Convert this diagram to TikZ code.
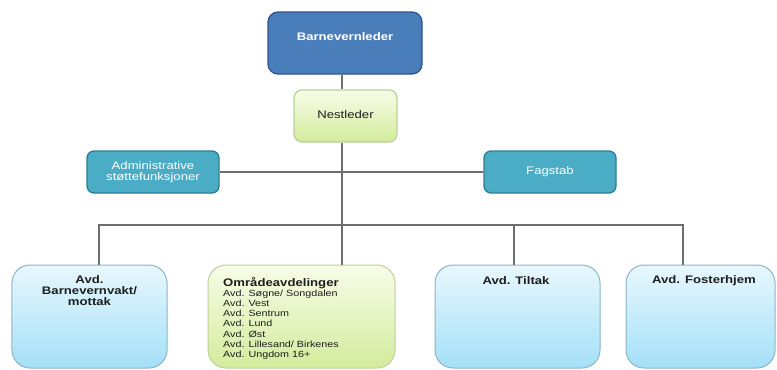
\documentclass[tikz,border=0pt]{standalone}
\usepackage{fontspec}
\setmainfont{Liberation Sans}[FakeStretch=1.2]
\definecolor{bossfill}{HTML}{4A7EBB}
\definecolor{bossline}{HTML}{2F5689}
\definecolor{tealfill}{HTML}{4BACC6}
\definecolor{tealline}{HTML}{2B7D93}
\definecolor{greentop}{HTML}{F8FCE8}
\definecolor{greenbot}{HTML}{D3EC9C}
\definecolor{greenline}{HTML}{BCD196}
\definecolor{bluetop}{HTML}{E8F7FD}
\definecolor{bluebot}{HTML}{A4E0F8}
\definecolor{blueline}{HTML}{8DB4C6}
\definecolor{conn}{HTML}{6E6E6E}
\definecolor{txtdark}{HTML}{1E1E1E}
\begin{document}
\begin{tikzpicture}[x=1bp,y=-1bp,
  box/.style={draw,rectangle,line width=1.3bp,inner sep=0pt},
  bossbox/.style={box,fill=bossfill,draw=bossline,rounded corners=10bp},
  nestbox/.style={box,top color=greentop,bottom color=greenbot,draw=greenline,rounded corners=8bp},
  tealbox/.style={box,fill=tealfill,draw=tealline,rounded corners=7bp},
  deptbox/.style={box,top color=bluetop,bottom color=bluebot,draw=blueline,line width=1bp,rounded corners=18bp},
  areabox/.style={box,top color=greentop,bottom color=greenbot,draw=greenline,line width=1bp,rounded corners=18bp},
  lbl/.style={inner sep=0pt,font=\fontsize{11}{11.5}\selectfont},
  conline/.style={draw=conn,line width=1.4bp}]
\useasboundingbox (0,0) rectangle (777,369);
% boxes
\node[bossbox,minimum width=154bp,minimum height=62bp] (boss) at (345,43) {};
\node[lbl,text=white,font=\fontsize{11}{11.5}\selectfont\bfseries] (bosst) at (345,37) {Barnevernleder};
\node[nestbox,minimum width=103bp,minimum height=52bp] (nest) at (345.5,116) {};
\node[lbl,text=txtdark] (nestt) at (345.5,115) {Nestleder};
\node[tealbox,minimum width=132bp,minimum height=42bp] (admin) at (153,172) {};
\node[lbl,text=white,align=center,font=\fontsize{11}{11.7}\selectfont] (admint) at (153,172) {Administrative\\støttefunksjoner};
\node[tealbox,minimum width=132bp,minimum height=42bp] (fag) at (550,172) {};
\node[lbl,text=white] (fagt) at (550,172) {Fagstab};
\node[deptbox,minimum width=155bp,minimum height=103bp] (b1) at (89.5,316.5) {};
\node[lbl,text=txtdark,align=center,font=\fontsize{11}{11}\selectfont\bfseries,anchor=north] (b1t) at (89.5,275) {Avd.\\Barnevernvakt/\\mottak};
\node[areabox,minimum width=187bp,minimum height=103bp] (b2) at (301.5,316.5) {};
\node[lbl,text=txtdark,align=left,anchor=north west,font=\fontsize{9}{10.2}\selectfont] (b2t) at (223,277) {{\fontsize{11}{11.5}\selectfont\bfseries Områdeavdelinger}\\Avd. Søgne/ Songdalen\\Avd. Vest\\Avd. Sentrum\\Avd. Lund\\Avd. Øst\\Avd. Lillesand/ Birkenes\\Avd. Ungdom 16+};
\node[deptbox,minimum width=165bp,minimum height=103bp] (b3) at (517.5,316.5) {};
\node[lbl,text=txtdark,font=\fontsize{11}{11}\selectfont\bfseries] (b3t) at (516,281) {Avd. Tiltak};
\node[deptbox,minimum width=149bp,minimum height=103bp] (b4) at (700.5,316.5) {};
\node[lbl,text=txtdark,font=\fontsize{11}{11}\selectfont\bfseries] (b4t) at (704,281) {Avd. Fosterhjem};
% coordinates
\coordinate (spine) at (342,0);
\coordinate (bus) at (0,225);
\coordinate (d1) at (99,0);
\coordinate (d3) at (514,0);
\coordinate (d4) at (683,0);
% connectors
\draw[conline] (boss.south -| spine) -- (nest.north -| spine);
\draw[conline] (nest.south -| spine) -- (b2.north -| spine);
\draw[conline] (admin.east) -- (fag.west);
\draw[conline] (b1.north -| d1) -- (bus -| d1) -- (bus -| d4) -- (b4.north -| d4);
\draw[conline] (bus -| d3) -- (b3.north -| d3);
\end{tikzpicture}
\end{document}
